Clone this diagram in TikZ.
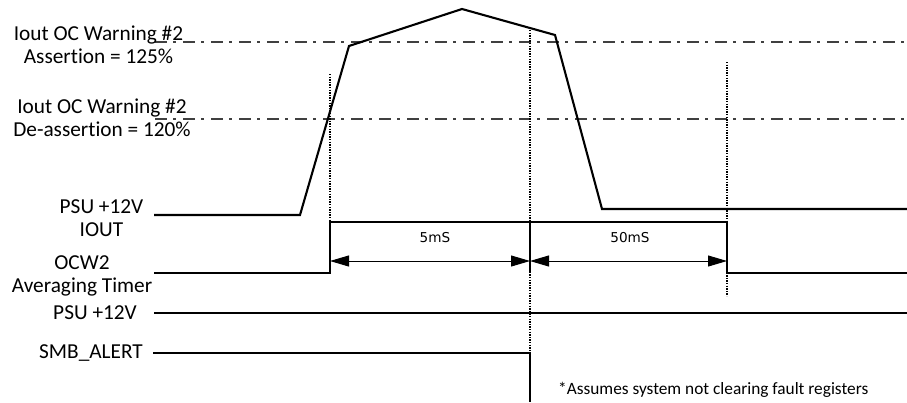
\documentclass[tikz,border=0pt]{standalone}
\usepackage{fontspec}
\setmainfont{Carlito}[Ligatures=NoCommon]
\newfontfamily\dimfont{DejaVu Sans}
\usetikzlibrary{arrows.meta}
\begin{document}
\begin{tikzpicture}[x=1pt,y=-1pt,
  lbl/.style={font=\fontsize{21.3}{22.5}\selectfont, inner sep=0pt, align=center},
  note/.style={font=\fontsize{17.3}{20}\selectfont, inner sep=0pt, anchor=west},
  dimlbl/.style={font=\dimfont\fontsize{13.6}{15}\selectfont, inner sep=0pt},
  wave/.style={line width=2.1pt, line join=miter},
  heavy/.style={line width=2.9pt, line join=miter},
  thresh/.style={line width=1.3pt, color=black!75, dash pattern=on 12pt off 6pt on 3pt off 7pt},
  marker/.style={line width=1.3pt, dash pattern=on 1.3pt off 1.3pt},
  dimline/.style={line width=1pt, {Triangle[length=19pt,width=11pt]}-{Triangle[length=19pt,width=11pt]}}
]
\useasboundingbox (0,0) rectangle (907,402);

% threshold lines
\draw[thresh] (155,42) -- (907,42);
\draw[thresh] (155,119) -- (907,119);

% time markers
\draw[marker] (330,74) -- (330,222);
\draw[marker] (530,30) -- (530,353);
\draw[marker] (727,62) -- (727,296);

% labels
\node[lbl] (asrt) at (98.5,45) {Iout OC Warning \#2\\Assertion = 125\%};
\node[lbl] (deasrt) at (102,118) {Iout OC Warning \#2\\De-assertion = 120\%};
\node[lbl] (iout) at (101.5,218) {PSU +12V\\IOUT};
\node[lbl] (ocw) at (82,276) {OCW2\\Averaging Timer};
\node[lbl, anchor=east] (psu) at (137,313) {PSU +12V};
\node[lbl, anchor=east] (smb) at (143,353) {SMB\_ALERT};

% IOUT waveform
\draw[wave] (154,215) -- (300,215) -- (349,46) -- (462,9) -- (555,35) -- (602,209) -- (907,209);

% OCW2 averaging timer
\draw[heavy] (154,273) -- (330,273) -- (330,222) -- (727,222) -- (727,273) -- (907,273);
\draw[heavy] (530,222) -- (530,273);
\draw[dimline] (330,261) -- (530,261);
\draw[dimline] (530,261) -- (727,261);
\node[dimlbl] (t5) at (435,238) {5mS};
\node[dimlbl] (t50) at (630,238) {50mS};

% PSU +12V
\draw[heavy] (154,313) -- (907,313);

% SMB_ALERT
\draw[heavy] (153,353) -- (530,353) -- (530,402);

% footnote
\node[note] (fn) at (558,390) {*Assumes system not clearing fault registers};
\end{tikzpicture}
\end{document}
